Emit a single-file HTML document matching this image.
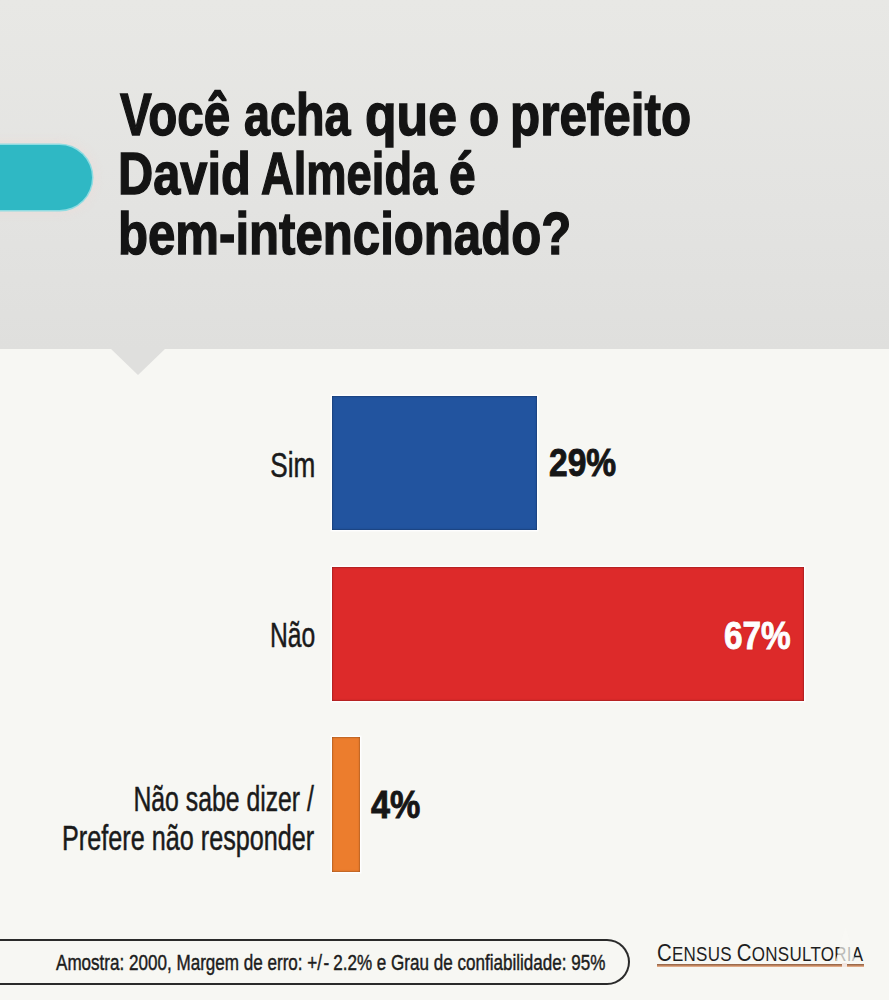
<!DOCTYPE html>
<html>
<head>
<meta charset="utf-8">
<style>
*{margin:0;padding:0;box-sizing:border-box;}
html,body{width:889px;height:1000px;overflow:hidden;}
body{position:relative;background:#f7f7f3;font-family:"Liberation Sans",sans-serif;}
#hdr{position:absolute;left:0;top:0;width:889px;height:349px;background:linear-gradient(#e8e8e5,#e3e3e1 60%,#dfdfdd);}
#tri{position:absolute;left:109.5px;top:348px;width:0;height:0;border-left:28.5px solid transparent;border-right:28.5px solid transparent;border-top:27px solid #dfdfdd;}
#pill{position:absolute;left:-40px;top:145px;width:132px;height:65px;border-radius:33px;background:#2fb8c4;box-shadow:0 0 0 1.5px #8fdce2, 0 0 10px 3px rgba(245,215,210,0.45);}
.t{position:absolute;white-space:nowrap;transform-origin:0 0;}
.title{font-weight:bold;font-size:59px;color:#141414;line-height:1;-webkit-text-stroke:1.4px #141414;}
.lab{font-size:35px;color:#1a1a1a;line-height:1;transform-origin:100% 0;-webkit-text-stroke:0.5px #1a1a1a;}
.pct{font-weight:bold;font-size:38px;color:#161616;line-height:1;-webkit-text-stroke:0.9px #161616;}
.bar{position:absolute;}
.hb{box-shadow:0 0 0 1.5px rgba(255,255,255,0.85), inset 0 0 1.5px 0.5px rgba(0,0,0,0.35);}
#foot{position:absolute;left:-30px;top:939px;width:660px;height:46px;border:2px solid #2a2a2a;border-left:none;border-radius:0 23px 23px 0;}
.ft{font-size:22px;color:#1c1c1c;line-height:1;-webkit-text-stroke:0.45px #1c1c1c;}
</style>
</head>
<body>
<div id="hdr"></div>
<div id="tri"></div>
<div id="pill"></div>

<div class="t title" id="w1" style="left:119.5px;top:86px;transform:scaleX(0.807);">Você</div>
<div class="t title" id="w2" style="left:244.0px;top:86px;transform:scaleX(0.792);">acha</div>
<div class="t title" id="w3" style="left:365.4px;top:86px;transform:scaleX(0.877);">que</div>
<div class="t title" id="w4" style="left:469.0px;top:86px;transform:scaleX(0.838);">o</div>
<div class="t title" id="w5" style="left:510.3px;top:86px;transform:scaleX(0.837);">prefeito</div>
<div class="t title" id="w6" style="left:117.7px;top:144.7px;transform:scaleX(0.826);">David</div>
<div class="t title" id="w7" style="left:260.8px;top:144.7px;transform:scaleX(0.768);">Almeida</div>
<div class="t title" id="w8" style="left:448.7px;top:144.7px;transform:scaleX(0.813);">é</div>
<div class="t title" id="w9" style="left:118.0px;top:205px;transform:scaleX(0.833);">bem-intencionado?</div>

<div class="bar hb" style="left:332px;top:396px;width:205px;height:134px;background:#22549f;"></div>
<div class="bar hb" style="left:332px;top:567px;width:472px;height:134px;background:#dd2a2a;"></div>
<div class="bar hb" style="left:332px;top:737px;width:28px;height:135px;background:#ec7d2d;"></div>

<div class="t lab" id="s1" style="right:574px;top:446.5px;transform:scaleX(0.747);">Sim</div>
<div class="t lab" id="s2" style="right:574px;top:617px;transform:scaleX(0.705);">Não</div>
<div class="t lab" id="s3" style="right:575px;top:781px;transform:scaleX(0.708);">Não sabe dizer /</div>
<div class="t lab" id="s4" style="right:575px;top:820px;transform:scaleX(0.72);">Prefere não responder</div>

<div class="t pct" id="p1" style="left:549px;top:444px;transform:scaleX(0.884);">29%</div>
<div class="t pct" id="p2" style="left:724px;top:616.5px;color:#fff;-webkit-text-stroke-color:#fff;text-shadow:0 0 1.5px rgba(110,10,10,0.7);transform:scaleX(0.878);">67%</div>
<div class="t pct" id="p3" style="left:371px;top:786px;transform:scaleX(0.896);">4%</div>

<div id="foot"></div>
<div class="t ft" id="f1" style="left:56px;top:951.7px;transform:scaleX(0.7757);">Amostra: 2000, Margem de erro: +/<span style="margin-left:2px;">-</span><span style="margin-left:5px;">2.2%</span> e Grau de confiabilidade: 95%</div>

<div class="t" id="logo" style="left:657px;top:938.5px;transform:scaleX(0.85);transform-origin:0 0;font-size:20px;color:#1e1e1e;letter-spacing:0.3px;"><span style="font-size:24px;">C</span>ENSUS <span style="font-size:24px;">C</span>ONSULTORIA</div>
<svg class="bar" style="left:0;top:0;" width="889" height="1000"><polygon points="845.5,927 834,966 857,966" fill="#f8f8f4" fill-opacity="0.72"/></svg>
<div class="bar" id="uline" style="left:657px;top:963.5px;width:207px;height:3px;background:linear-gradient(#8a5e44,#c98a62 60%,#efc0a0);"></div>
<div class="bar" style="left:842px;top:963px;width:5px;height:4px;background:#f3e6e0;"></div>
</body>
</html>
